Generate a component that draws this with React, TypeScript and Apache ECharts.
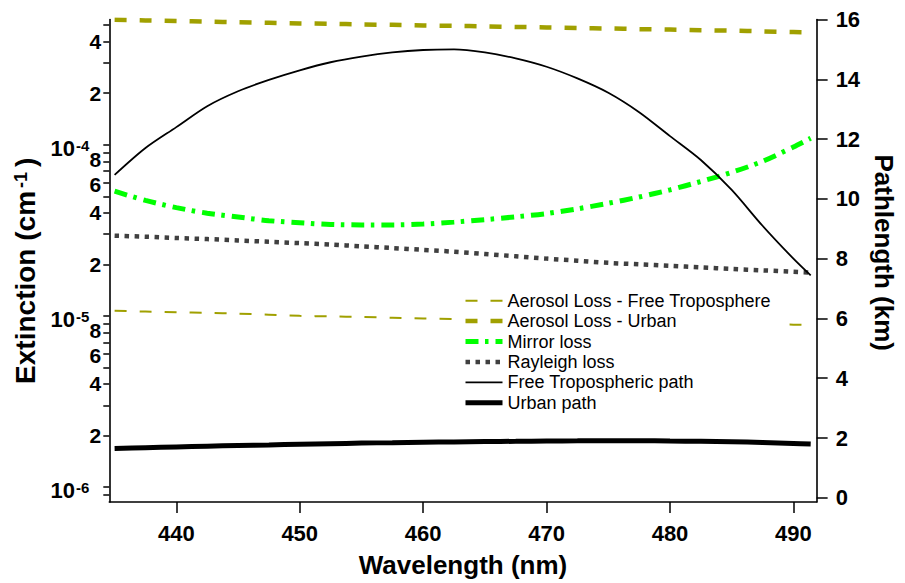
import React, { useEffect, useRef } from "react";
import * as echarts from "echarts";

// Wavelength (nm)
const wavelengths = [
  435, 437.5, 440, 442.5, 445, 447.5, 450, 452.5, 455, 457.5, 460, 462.5,
  465, 467.5, 470, 472.5, 475, 477.5, 480, 482.5, 485, 487.5, 490, 491.4,
];

// Extinction (cm^-1)
const aerosolFreeTrop = [
  1.07e-5, 1.06e-5, 1.05e-5, 1.04e-5, 1.03e-5, 1.015e-5, 1.0e-5, 9.93e-6,
  9.85e-6, 9.75e-6, 9.65e-6, 9.58e-6, 9.5e-6, 9.42e-6, 9.35e-6, 9.28e-6,
  9.2e-6, 9.15e-6, 9.1e-6, 9.04e-6, 8.98e-6, 8.93e-6, 8.88e-6, 8.85e-6,
];
const aerosolUrban = [
  5.37e-4, 5.33e-4, 5.29e-4, 5.24e-4, 5.2e-4, 5.16e-4, 5.12e-4, 5.09e-4,
  5.05e-4, 5.02e-4, 4.98e-4, 4.95e-4, 4.92e-4, 4.88e-4, 4.85e-4, 4.81e-4,
  4.78e-4, 4.74e-4, 4.71e-4, 4.67e-4, 4.64e-4, 4.6e-4, 4.56e-4, 4.54e-4,
];
const mirrorLoss = [
  5.35e-5, 4.73e-5, 4.29e-5, 3.98e-5, 3.78e-5, 3.6e-5, 3.5e-5, 3.42e-5,
  3.4e-5, 3.4e-5, 3.44e-5, 3.53e-5, 3.65e-5, 3.79e-5, 3.96e-5, 4.22e-5,
  4.55e-5, 4.95e-5, 5.45e-5, 6.1e-5, 6.9e-5, 8.0e-5, 9.7e-5, 1.09e-4,
];
const rayleighLoss = [
  2.94e-5, 2.9e-5, 2.85e-5, 2.81e-5, 2.76e-5, 2.71e-5, 2.66e-5, 2.61e-5,
  2.55e-5, 2.49e-5, 2.43e-5, 2.37e-5, 2.3e-5, 2.23e-5, 2.16e-5, 2.1e-5,
  2.04e-5, 2.0e-5, 1.96e-5, 1.92e-5, 1.88e-5, 1.845e-5, 1.81e-5, 1.79e-5,
];

// Pathlength (km)
const freeTropPath = [
  10.8, 11.7, 12.4, 13.1, 13.6, 13.98, 14.3, 14.57, 14.76, 14.9, 14.98, 15.0,
  14.9, 14.7, 14.42, 14.03, 13.55, 12.9, 12.1, 11.3, 10.3, 9.1, 8.0, 7.44,
];
const urbanPath = [
  1.65, 1.675, 1.7, 1.725, 1.75, 1.77, 1.79, 1.81, 1.83, 1.845, 1.86, 1.87,
  1.88, 1.89, 1.9, 1.905, 1.91, 1.91, 1.9, 1.89, 1.875, 1.85, 1.82, 1.8,
];

// Axis ticks
const wavelengthTicks = [440, 450, 460, 470, 480, 490];
const pathTicks = [0, 2, 4, 6, 8, 10, 12, 14, 16];
const extinctionDecades = [-7, -6, -5, -4, -3];
const extinctionTickMantissas = [1, 2, 3, 4, 5, 6, 7, 8, 9];
const extinctionLabelMantissas = [1, 2, 4, 6, 8];

const seriesNames = [
  "Aerosol Loss - Free Troposphere",
  "Aerosol Loss - Urban",
  "Mirror loss",
  "Rayleigh loss",
  "Free Tropospheric path",
  "Urban path",
];

const FONT = "'Liberation Sans', Arial, Helvetica, sans-serif";
const LOG_MIN = -6.088;
const LOG_MAX = -3.268;

function logPositions(mantissas: number[]) {
  const out: number[] = [];
  extinctionDecades.forEach((d) =>
    mantissas.forEach((k) => {
      const v = d + Math.log10(k);
      if (v >= LOG_MIN && v <= LOG_MAX) out.push(v);
    })
  );
  return out;
}

export default function App() {
  const ref = useRef<HTMLDivElement>(null);
  useEffect(() => {
    const chart = echarts.init(ref.current!, null, { renderer: "svg" });
    const logData = (arr: number[]) =>
      wavelengths.map((w, i) => [w, Math.log10(arr[i])]);
    const kmData = (arr: number[]) => wavelengths.map((w, i) => [w, arr[i]]);
    const olive = "#a0a000";
    const digit = { fontFamily: FONT, fontSize: 21, fontWeight: "bold", color: "#000", lineHeight: 14 };

    const option: any = {
      animation: false,
      backgroundColor: "#fff",
      grid: { left: 109.3, right: 77.5, top: 19.5, bottom: 75.3, containLabel: false },
      legend: {
        data: seriesNames,
        orient: "vertical",
        left: 453,
        top: 284.7,
        itemWidth: 37,
        itemHeight: 14,
        itemGap: 0.4,
        padding: [6, 8, 6, 10],
        backgroundColor: "#fff",
        itemStyle: { opacity: 0, color: "transparent", borderWidth: 0 },
        lineStyle: { width: "inherit", type: "inherit" },
        textStyle: { fontFamily: FONT, fontSize: 18, color: "#000", lineHeight: 20 },
      },
      xAxis: {
        type: "value",
        min: 434.57,
        max: 491.88,
        name: "Wavelength (nm)",
        nameLocation: "middle",
        nameGap: 50,
        nameTextStyle: { fontFamily: FONT, fontSize: 26, fontWeight: "bold", color: "#000" },
        axisLine: { onZero: false, lineStyle: { color: "#000", width: 1.6 } },
        axisTick: { customValues: wavelengthTicks, length: 11, lineStyle: { color: "#000", width: 1.5 } },
        axisLabel: {
          customValues: wavelengthTicks,
          margin: 20,
          fontFamily: FONT,
          fontSize: 22,
          fontWeight: "bold",
          color: "#000",
        },
        splitLine: { show: false },
      },
      yAxis: [
        {
          type: "value",
          position: "left",
          min: LOG_MIN,
          max: LOG_MAX,
          name: "Extinction (cm{s|-1})",
          nameLocation: "middle",
          nameRotate: 90,
          nameGap: 64,
          nameTextStyle: {
            fontFamily: FONT,
            fontSize: 28,
            fontWeight: "bold",
            color: "#000",
            padding: [0, 20, 0, 0],
            rich: {
              s: {
                fontFamily: FONT,
                fontSize: 18,
                fontWeight: "bold",
                color: "#000",
                verticalAlign: "top",
                padding: [0, 5, 0, 3],
              },
            },
          },
          axisLine: { onZero: false, lineStyle: { color: "#000", width: 1.6 } },
          axisTick: {
            customValues: logPositions(extinctionTickMantissas),
            length: 6,
            lineStyle: { color: "#000", width: 1.5 },
          },
          axisLabel: {
            customValues: logPositions(extinctionLabelMantissas),
            margin: 8,
            fontFamily: FONT,
            fontSize: 21,
            fontWeight: "bold",
            color: "#000",
            lineHeight: 14,
            formatter: (v: number) => {
              const d = Math.floor(v + 1e-9);
              const k = Math.round(Math.pow(10, v - d));
              if (k === 1) return `{a|10}{b|${d}}`;
              if (k === 8) return `{up|8}`;
              if (k === 6) return `{dn|6}`;
              return `{n|${k}}`;
            },
            rich: {
              a: {
                fontFamily: FONT,
                fontSize: 22,
                fontWeight: "bold",
                color: "#000",
                lineHeight: 14,
                padding: [8, 0, 0, 0],
              },
              b: {
                fontFamily: FONT,
                fontSize: 15,
                fontWeight: "bold",
                color: "#000",
                lineHeight: 8,
                verticalAlign: "top",
                padding: [0, 12, 0, 1],
              },
              n: { ...digit },
              up: { ...digit, padding: [0, 0, 4, 0] },
              dn: { ...digit, padding: [4, 0, 0, 0] },
            },
          },
          splitLine: { show: false },
        },
        {
          type: "value",
          position: "right",
          min: -0.14,
          max: 16,
          name: "Pathlength (km)",
          nameLocation: "middle",
          nameRotate: -90,
          nameGap: 48,
          nameTextStyle: {
            fontFamily: FONT,
            fontSize: 26,
            fontWeight: "bold",
            color: "#000",
            padding: [0, 16, 0, 0],
          },
          axisLine: { onZero: false, lineStyle: { color: "#000", width: 1.6 } },
          axisTick: { customValues: pathTicks, length: 11, lineStyle: { color: "#000", width: 1.5 } },
          axisLabel: {
            customValues: pathTicks,
            margin: 19,
            fontFamily: FONT,
            fontSize: 22,
            fontWeight: "bold",
            color: "#000",
          },
          splitLine: { show: false },
        },
      ],
      series: [
        {
          name: seriesNames[0],
          type: "line",
          yAxisIndex: 0,
          symbol: "none",
          smooth: 0.3,
          data: logData(aerosolFreeTrop),
          lineStyle: { color: olive, width: 2, type: [12, 13] },
          itemStyle: { color: olive },
        },
        {
          name: seriesNames[1],
          type: "line",
          yAxisIndex: 0,
          symbol: "none",
          smooth: 0.3,
          data: logData(aerosolUrban),
          lineStyle: { color: olive, width: 4.5, type: [12, 13] },
          itemStyle: { color: olive },
        },
        {
          name: seriesNames[2],
          type: "line",
          yAxisIndex: 0,
          symbol: "none",
          smooth: 0.3,
          data: logData(mirrorLoss),
          lineStyle: { color: "#00ff00", width: 5, type: [13, 6.5, 3.5, 7] },
          itemStyle: { color: "#00ff00" },
        },
        {
          name: seriesNames[3],
          type: "line",
          yAxisIndex: 0,
          symbol: "none",
          smooth: 0.3,
          data: logData(rayleighLoss),
          lineStyle: { color: "#404040", width: 4.5, type: [4.5, 5.5] },
          itemStyle: { color: "#404040" },
        },
        {
          name: seriesNames[4],
          type: "line",
          yAxisIndex: 1,
          symbol: "none",
          smooth: 0.3,
          data: kmData(freeTropPath),
          lineStyle: { color: "#000", width: 1.8 },
          itemStyle: { color: "#000" },
        },
        {
          name: seriesNames[5],
          type: "line",
          yAxisIndex: 1,
          symbol: "none",
          smooth: 0.3,
          data: kmData(urbanPath),
          lineStyle: { color: "#000", width: 5 },
          itemStyle: { color: "#000" },
        },
      ],
    };
    chart.setOption(option);
    return () => chart.dispose();
  }, []);
  return (
    <div
      ref={ref}
      style={{ position: "absolute", left: 0, top: 0, width: 905, height: 583, background: "#fff" }}
    />
  );
}
